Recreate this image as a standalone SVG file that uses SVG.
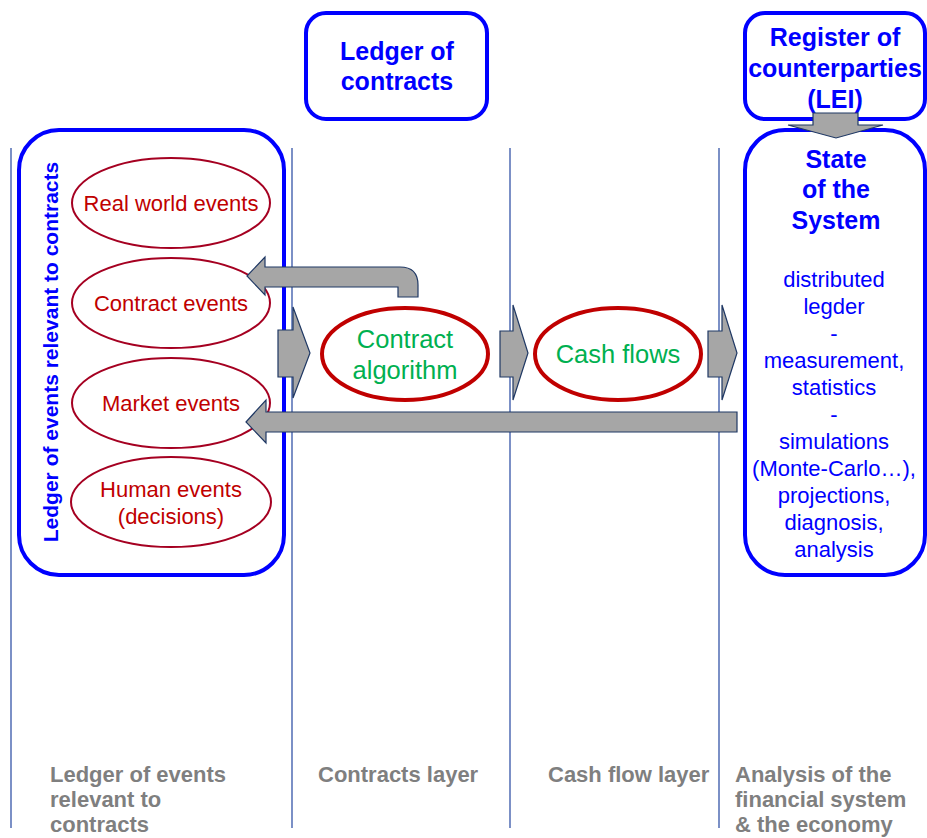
<svg xmlns="http://www.w3.org/2000/svg" width="927" height="838" viewBox="0 0 927 838">
  <style>
    .lane { stroke: #2446A0; stroke-width: 1.2; fill: none; }
    .box { fill: #FFFFFF; stroke: #0000FF; stroke-width: 4; }
    .evt { fill: #FFFFFF; stroke: #A50021; stroke-width: 2; }
    .core { fill: #FFFFFF; stroke: #C00000; stroke-width: 4; }
    .arrow { fill: #A6A6A6; stroke: #1F3864; stroke-width: 1.2; stroke-linejoin: miter; }
    .t { font-family: "Liberation Sans", Arial, sans-serif; text-anchor: middle; }
    .head { font-size: 25px; font-weight: bold; fill: #0000FF; }
    .vert { font-size: 21px; font-weight: bold; fill: #0000FF; }
    .body { font-size: 22px; fill: #0000FF; }
    .evtx { font-size: 22px; fill: #C00000; }
    .green { font-size: 25.5px; fill: #00B050; }
    .layer { font-family: "Liberation Sans", Arial, sans-serif; font-size: 22px; font-weight: bold; fill: #7F7F7F; }
  </style>

  <!-- layer separators -->
  <g id="lanes">
    <line class="lane" x1="11" y1="148" x2="11" y2="828"/>
    <line class="lane" x1="292" y1="148" x2="292" y2="828"/>
    <line class="lane" x1="510" y1="148" x2="510" y2="828"/>
    <line class="lane" x1="719" y1="148" x2="719" y2="828"/>
  </g>

  <!-- event ledger -->
  <g id="event-ledger">
    <rect class="box" x="19" y="130" width="265" height="445" rx="40" ry="40"/>
    <text class="t vert" transform="translate(58,352) rotate(-90)">Ledger of events relevant to contracts</text>
  </g>

  <g id="real-world-events">
    <ellipse class="evt" cx="171" cy="203" rx="99" ry="45"/>
    <text class="t evtx" x="171" y="211">Real world events</text>
  </g>
  <g id="contract-events">
    <ellipse class="evt" cx="171" cy="303" rx="99" ry="45"/>
    <text class="t evtx" x="171" y="311">Contract events</text>
  </g>
  <g id="market-events">
    <ellipse class="evt" cx="171" cy="403" rx="99" ry="45"/>
    <text class="t evtx" x="171" y="411">Market events</text>
  </g>
  <g id="human-events">
    <ellipse class="evt" cx="171" cy="502" rx="100" ry="45"/>
    <text class="t evtx" x="171" y="497">Human events</text>
    <text class="t evtx" x="171" y="524">(decisions)</text>
  </g>

  <!-- ledger of contracts -->
  <g id="ledger-of-contracts">
    <rect class="box" x="306" y="13" width="181" height="106" rx="20" ry="20"/>
    <text class="t head" x="397" y="60">Ledger of</text>
    <text class="t head" x="397" y="90">contracts</text>
  </g>

  <g id="contract-algorithm">
    <ellipse class="core" cx="405" cy="354" rx="83" ry="46"/>
    <text class="t green" x="405" y="348">Contract</text>
    <text class="t green" x="405" y="379">algorithm</text>
  </g>

  <g id="cash-flows">
    <ellipse class="core" cx="618" cy="354" rx="83" ry="46"/>
    <text class="t green" x="618" y="363">Cash flows</text>
  </g>

  <!-- register of counterparties -->
  <g id="register-of-counterparties">
    <rect class="box" x="745" y="13" width="180" height="106" rx="20" ry="20"/>
    <text class="t head" x="835" y="46">Register of</text>
    <text class="t head" x="835" y="77">counterparties</text>
    <text class="t head" x="835" y="108">(LEI)</text>
  </g>

  <!-- state of the system -->
  <g id="state-of-the-system">
    <rect class="box" x="745" y="130" width="180" height="445" rx="40" ry="40"/>
    <text class="t head" x="836" y="168">State</text>
    <text class="t head" x="836" y="198">of the</text>
    <text class="t head" x="836" y="229">System</text>
    <text class="t body" x="834" y="287">distributed</text>
    <text class="t body" x="834" y="314">legder</text>
    <text class="t body" x="834" y="341">-</text>
    <text class="t body" x="834" y="368">measurement,</text>
    <text class="t body" x="834" y="395">statistics</text>
    <text class="t body" x="834" y="422">-</text>
    <text class="t body" x="834" y="449">simulations</text>
    <text class="t body" x="834" y="476">(Monte-Carlo…),</text>
    <text class="t body" x="834" y="503">projections,</text>
    <text class="t body" x="834" y="530">diagnosis,</text>
    <text class="t body" x="834" y="557">analysis</text>
  </g>

  <!-- flow arrows -->
  <g id="connectors">
    <!-- register feeds state -->
    <path class="arrow" d="M813,113 L858,113 L858,125 L883,125 L836,138 L788,125 L813,125 Z"/>
    <!-- events to contract algorithm -->
    <path class="arrow" d="M278,330 L293,330 L293,307 L310,353 L293,398 L293,377 L278,377 Z"/>
    <!-- contract algorithm to cash flows -->
    <path class="arrow" d="M500,331 L513,331 L513,305 L528,353 L513,400 L513,377 L500,377 Z"/>
    <!-- cash flows to state -->
    <path class="arrow" d="M708,331 L722,331 L722,305 L737,353 L722,400 L722,377 L708,377 Z"/>
    <!-- contract algorithm back to contract events -->
    <path class="arrow" d="M247,276 L265,257 L265,267 L400,267 Q418,267 418,285 L418,297 L398,297 L398,287 L265,287 L265,295 Z"/>
    <!-- state back to market events -->
    <path class="arrow" d="M246,422 L266,400 L266,412 L737,412 L737,432 L266,432 L266,443 Z"/>
  </g>

  <!-- layer captions -->
  <g id="captions">
    <text class="layer" x="50" y="782">Ledger of events</text>
    <text class="layer" x="50" y="807">relevant to</text>
    <text class="layer" x="50" y="832">contracts</text>
    <text class="layer" x="318" y="782">Contracts layer</text>
    <text class="layer" x="548" y="782">Cash flow layer</text>
    <text class="layer" x="735" y="782">Analysis of the</text>
    <text class="layer" x="735" y="807">financial system</text>
    <text class="layer" x="735" y="832">&amp; the economy</text>
  </g>
</svg>
